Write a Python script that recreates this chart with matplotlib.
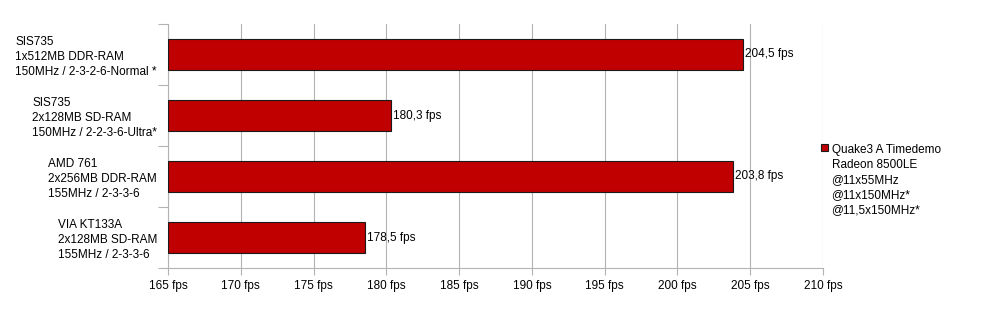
import matplotlib
matplotlib.use("Agg")
import matplotlib.pyplot as plt

plt.rcParams['font.family'] = ['Liberation Sans', 'DejaVu Sans']

categories = [
    "SIS735\n1x512MB DDR-RAM\n150MHz / 2-3-2-6-Normal *",
    "SIS735\n2x128MB SD-RAM\n150MHz / 2-2-3-6-Ultra*",
    "AMD 761\n2x256MB DDR-RAM\n155MHz / 2-3-3-6",
    "VIA KT133A\n2x128MB SD-RAM\n155MHz / 2-3-3-6",
]
values = [204.5, 180.3, 203.8, 178.5]
value_labels = ["204,5 fps", "180,3 fps", "203,8 fps", "178,5 fps"]
xticks = [165, 170, 175, 180, 185, 190, 195, 200, 205, 210]
xtick_labels = [f"{t} fps" for t in xticks]
legend_label = "Quake3 A Timedemo\nRadeon 8500LE\n@11x55MHz\n@11x150MHz*\n@11,5x150MHz*"

fig = plt.figure(figsize=(9.86, 3.10), dpi=100)
ax = fig.add_axes([168/986, 1-268/310, (823-168)/986, (268-24)/310])

n = len(categories)
ypos = [n - 1 - i for i in range(n)]
bars = ax.barh(ypos, [v - 165 for v in values], left=165, height=0.5,
               color='#C00000', edgecolor='#1a1a1a', linewidth=0.8, zorder=3,
               label=legend_label)
for y, v, lab in zip(ypos, values, value_labels):
    ax.text(v + 0.15, y, lab, va='center', ha='left', fontsize=8.5, color='black')

ax.set_xlim(165, 210)
ax.set_ylim(-0.5, n - 0.5)
ax.set_xticks(xticks)
ax.set_xticklabels(xtick_labels, fontsize=8.5)
ax.xaxis.grid(True, color='#b3b3b3', linewidth=0.8, zorder=0)
ax.set_axisbelow(True)
ax.tick_params(axis='x', length=5, color='#b3b3b3', pad=4)

# category boundaries as ticks on y axis
ax.set_yticks([i - 0.5 for i in range(n + 1)])
ax.set_yticklabels([])
ax.tick_params(axis='y', length=7, color='#b3b3b3', direction='out')
for y, lab in zip(ypos, categories):
    ax.annotate(lab, xy=(0, y), xycoords=('axes fraction', 'data'),
                xytext=(-8, -2), textcoords='offset points',
                ha='right', va='center', multialignment='left', fontsize=8.5,
                linespacing=1.35)

for s in ['top', 'right']:
    ax.spines[s].set_visible(False)
for s in ['left', 'bottom']:
    ax.spines[s].set_color('#b3b3b3')

leg = fig.legend(handles=[bars], labels=[legend_label], loc='center left',
                 bbox_to_anchor=(815/986, 1 - 180/310), frameon=False,
                 fontsize=8.5, handlelength=0.6, handleheight=0.6,
                 handletextpad=0.3, borderpad=0, labelspacing=0)
for t in leg.get_texts():
    t.set_linespacing(1.35)
# align handle to the top line of the label
for col in leg._legend_handle_box.get_children():
    for item in col.get_children():
        item.align = 'top'

fig.savefig("out.png", dpi=100)
